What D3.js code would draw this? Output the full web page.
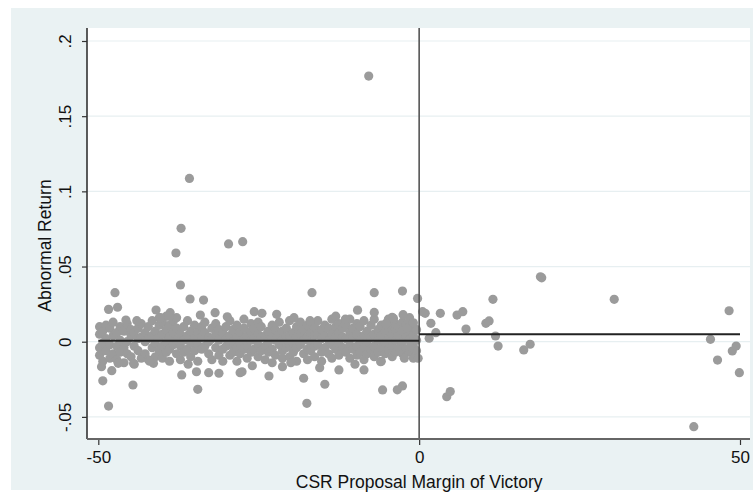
<!DOCTYPE html>
<html><head><meta charset="utf-8">
<script src="https://cdn.jsdelivr.net/npm/d3@7"></script>
<style>body{margin:0;background:#fff;}svg{display:block;font-family:"Liberation Sans",Arial,sans-serif;}</style>
</head><body>
<svg id="c" width="753" height="495"></svg>
<script>
// ---- data ----
const xTicks = [-50, 0, 50];
const xTickLabels = ["-50", "0", "50"];
const yTicks = [-0.05, 0, 0.05, 0.1, 0.15, 0.2];
const yTickLabels = ["-.05", "0", ".05", ".1", ".15", ".2"];
const xTitle = "CSR Proposal Margin of Victory";
const yTitle = "Abnormal Return";

// dense band of observations (margin < 0): [x, y1, y2, ...]
const bandRows = [
[-49.8,.005,-.004,-.009,.010],[-49.3,.007,-.001,-.013],[-48.8,.002,-.006,.011],
[-48.2,.009,-.002,-.011],[-47.7,.004,-.008,.013],[-47.1,-.003,.006,-.012],
[-46.6,.001,.010,-.007],[-46.0,.007,-.004,-.014],[-45.5,.012,.000,-.008],
[-44.9,.004,-.010,.008],[-44.4,-.003,.006,-.015],[-43.8,.009,.002,-.006],
[-43.3,.003,-.011,.012],[-42.7,.006,-.008,.000],[-42.2,.010,.002,-.012],
[-41.6,.004,-.004,.014],[-41.1,.007,-.001,-.010],[-40.5,.011,.003,-.006,.016],
[-40.0,.013,.005,-.003,-.011],[-39.4,.017,.008,.000,-.007],[-38.9,.011,.003,-.005,-.013],
[-38.3,.014,.006,-.002],[-37.8,.009,.001,-.008,.016],[-37.2,.005,-.003,-.012],
[-36.7,.010,.001,-.007],[-36.1,.004,-.005,.014],[-35.6,.007,-.001,-.010],
[-35.0,.002,-.006,.011],[-34.5,.006,-.002,-.013],[-33.9,.010,.003,-.005],
[-33.4,.006,-.003,.013],[-32.8,.003,-.008,.000],[-32.3,.009,.002,-.012],
[-31.7,.005,-.004,.012],[-31.2,.001,-.009,.008],[-30.6,.006,-.005,-.013],
[-30.1,.010,.002,-.003],[-29.5,.004,-.002,-.009,.014],[-29.0,.008,.000,-.007],
[-28.4,.003,-.004,.011,-.013],[-27.9,.006,-.001,-.008],[-27.3,.009,.002,-.005,.015],
[-26.8,.004,-.003,-.011],[-26.2,.007,.001,-.007,.012],[-25.7,.002,-.005,.009],
[-25.1,.005,-.002,-.010,.013],[-24.6,.010,.003,-.006],[-24.0,.004,-.003,-.012],
[-23.5,.007,.000,-.007],[-22.9,.003,-.005,.011,-.014],[-22.4,.008,.001,-.009],
[-21.8,.005,-.002,.013],[-21.3,.001,-.006,.007,-.011],[-20.7,.009,.003,-.004],
[-20.2,.004,-.002,-.010,.014],[-19.6,.006,-.001,-.007],[-19.1,.010,.003,-.004,-.013],
[-18.5,.005,-.002,.013],[-18.0,.008,.001,-.008],[-17.4,.003,-.005,.011,-.012],
[-16.9,.006,-.001,-.006],[-16.3,.010,.004,-.003,-.010],[-15.8,.005,-.002,.014],
[-15.2,.008,.002,-.007,-.013],[-14.7,.004,-.004,.011],[-14.1,.009,.001,-.008],
[-13.6,.005,-.002,.015,-.011],[-13.0,.010,.003,-.005],[-12.5,.006,-.001,-.009,.012],
[-11.9,.003,-.004,.009],[-11.4,.011,.002,-.007],[-10.8,.006,-.002,-.011,.015],
[-10.3,.009,.003,-.005],[-9.7,.005,-.003,.012,-.009],[-9.2,.010,.001,-.007],
[-8.6,.004,-.004,.014,-.012],[-8.1,.007,.000,-.008],[-7.5,.011,.003,-.005],
[-7.0,.005,-.003,.015,-.010],[-6.4,.008,.001,-.007],[-5.9,.004,-.004,.011,-.013],
[-5.3,.007,-.001,-.008],[-4.8,.010,.002,-.005,.015],[-4.2,.005,-.003,-.010],
[-3.7,.008,.001,-.007,.012],[-3.1,.004,-.004,.010],[-2.6,.007,.000,-.008,.013],
[-2.0,.003,-.005,.011],[-1.5,.006,.001,-.007,.016],[-0.9,.004,-.003,.010,-.011],
[-0.4,.008,.001,-.006]
];

// scattered observations: [x, y]
const scatterPts = [
[-48.4,.0215],[-47.0,.0229],[-45.7,.0144],[-41.0,.0211],[-38.8,.0193],[-34.1,.0177],
[-31.8,.0193],[-29.9,.0166],[-25.7,.020],[-24.5,.0189],[-22.2,.0182],[-9.6,.021],
[-7.0,.0195],[-4.2,.0162],[-4.0,.0155],[-5.2,.012],[-1.9,.0089],[-0.9,.0126],
[-40.3,.016],[-39.0,.017],[-19.5,.016],[-13.0,.017],[-11.5,.015],[-17.0,.014],
[-2.5,.018],[-44.0,.014],
[-49.5,-.0166],[-49.3,-.026],[-47.9,-.0193],[-46.9,-.0144],[-44.6,-.0288],[-44.5,-.0144],
[-41.4,-.0144],[-37.0,-.0221],[-34.7,-.020],[-34.5,-.0317],[-32.8,-.0206],[-31.2,-.021],
[-27.9,-.0206],[-23.4,-.0228],[-21.3,-.0166],[-18.0,-.0243],[-17.5,-.041],[-15.5,-.0173],
[-12.5,-.0188],[-8.6,-.0188],[-6.0,-.0133],[-0.16,-.011],[-14.7,-.0283],[-5.7,-.0321],
[-2.6,-.0294],[-1.4,-.0033],[-2.3,-.011],[-3.4,-.032],[-27.6,-.020],[-42.0,-.013],
[-36.0,-.015],[-26.0,-.016],[-10.0,-.015],[-20.0,-.014],
[-47.4,.0326],[-37.9,.059],[-37.2,.0377],[-35.7,.0284],[-33.6,.0277],[-35.8,.1086],
[-37.1,.0754],[-29.7,.065],[-27.5,.0665],[-7.86,.1767],[-16.7,.0326],[-7.0,.0326],
[-2.6,.0337],[-0.25,.0288],[-48.4,-.0428],
[0.53,.020],[0.94,.0189],[3.3,.0189],[1.83,.0122],[5.9,.0177],[6.8,.020],[7.3,.0084],
[2.6,.006],[1.56,.0023],[11.5,.0282],[10.4,.0122],[10.9,.0138],[11.9,.0038],[12.3,-.0029],
[16.3,-.0055],[17.3,-.0017],[18.9,.0432],[19.1,.0425],[4.3,-.0366],[4.85,-.0332],[30.4,.0282],
[48.3,.0206],[45.4,.0016],[46.5,-.0122],[48.8,-.0062],[49.4,-.0029],[49.9,-.0206],[42.8,-.0565]
];

// fitted means on each side of the cutoff
const fitLeft = [[-50, .0006], [0, .0006]];
const fitRight = [[0, .0049], [50, .0049]];

// ---- drawing ----
const svg = d3.select("#c");
const plot = {left: 87, right: 750, top: 28, bottom: 439};
const x = d3.scaleLinear().domain([-50, 50]).range([98.3, 740]);
const y = d3.scaleLinear().domain([0, 0.2]).range([341.7, 41]);

svg.append("rect").attr("x", 11).attr("y", 8).attr("width", 742).attr("height", 482).attr("fill", "#eaf2f3");
svg.append("rect").attr("x", plot.left).attr("y", plot.top).attr("width", plot.right - plot.left)
  .attr("height", plot.bottom - plot.top).attr("fill", "#fff");

// gridlines
svg.append("g").selectAll("line").data(yTicks).join("line")
  .attr("x1", plot.left).attr("x2", plot.right)
  .attr("y1", d => y(d)).attr("y2", d => y(d))
  .attr("stroke", "#e7eff1").attr("stroke-width", 1.2);

const pts = [];
bandRows.forEach(r => { for (let i = 1; i < r.length; i++) pts.push([r[0], r[i]]); });
scatterPts.forEach(p => pts.push(p));

svg.append("g").selectAll("circle").data(pts).join("circle")
  .attr("cx", d => x(d[0])).attr("cy", d => y(d[1])).attr("r", 4.6)
  .attr("fill", "#9b9b9b");

// cutoff line
svg.append("line").attr("x1", x(0)).attr("x2", x(0)).attr("y1", plot.top).attr("y2", plot.bottom)
  .attr("stroke", "#555").attr("stroke-width", 1.6);

const line = d3.line().x(d => x(d[0])).y(d => y(d[1]));
[fitLeft, fitRight].forEach(f => {
  svg.append("path").attr("d", line(f)).attr("fill", "none").attr("stroke", "#222").attr("stroke-width", 2);
});

// y axis
const yAxis = d3.axisLeft(y).tickValues(yTicks).tickSize(5).tickFormat((d, i) => yTickLabels[i]);
const gy = svg.append("g").attr("transform", `translate(${plot.left},0)`).call(yAxis);
gy.select(".domain").remove();
gy.selectAll(".tick line").attr("stroke", "#333").attr("stroke-width", 1.2);
gy.selectAll(".tick text").attr("font-size", 17).attr("fill", "#111")
  .attr("x", 0).attr("dy", 0).attr("text-anchor", "middle")
  .attr("transform", "translate(-16,0) rotate(-90)").attr("dominant-baseline", "auto");
svg.append("line").attr("x1", plot.left).attr("x2", plot.left).attr("y1", plot.top).attr("y2", plot.bottom)
  .attr("stroke", "#333").attr("stroke-width", 1.6);

// x axis
const xAxis = d3.axisBottom(x).tickValues(xTicks).tickSize(6).tickFormat((d, i) => xTickLabels[i]);
const gx = svg.append("g").attr("transform", `translate(0,${plot.bottom})`).call(xAxis);
gx.select(".domain").remove();
gx.selectAll(".tick line").attr("stroke", "#333").attr("stroke-width", 1.2);
gx.selectAll(".tick text").attr("font-size", 17).attr("fill", "#111").attr("y", 10).attr("dy", "0.8em");
svg.append("line").attr("x1", plot.left).attr("x2", plot.right).attr("y1", plot.bottom).attr("y2", plot.bottom)
  .attr("stroke", "#666").attr("stroke-width", 2);

svg.append("text").attr("x", x(0)).attr("y", 488).attr("text-anchor", "middle")
  .attr("font-size", 17.5).attr("fill", "#111").text(xTitle);
svg.append("text").attr("transform", `translate(51,${(plot.top + plot.bottom) / 2 + 12}) rotate(-90)`)
  .attr("text-anchor", "middle").attr("font-size", 17.5).attr("fill", "#111").text(yTitle);
</script>
</body></html>
